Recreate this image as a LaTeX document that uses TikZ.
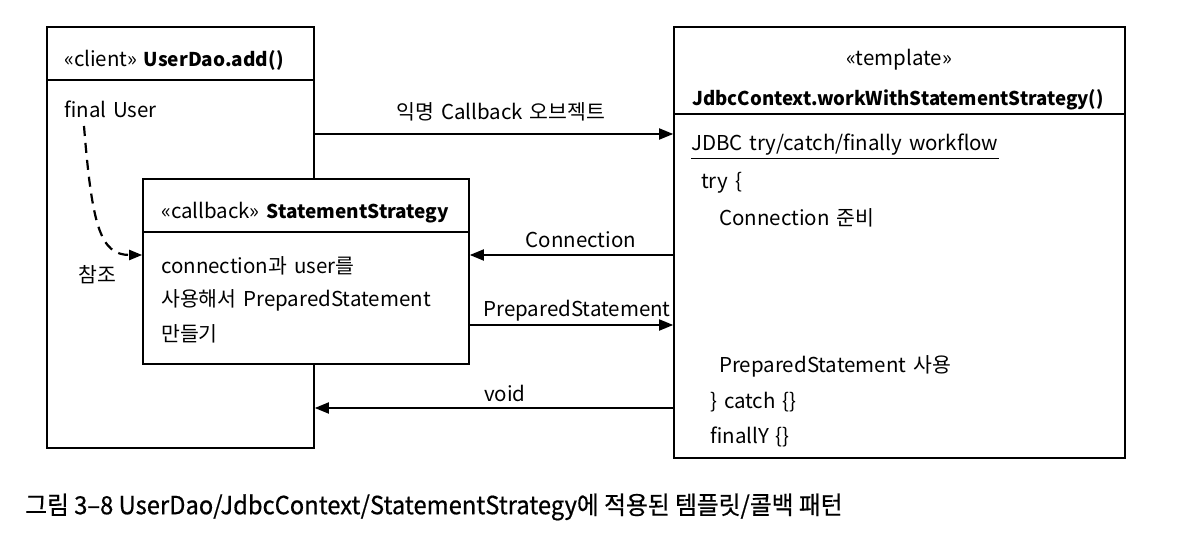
\documentclass[tikz,border=0pt]{standalone}
\usepackage{fontspec}
\setmainfont{Noto Sans CJK KR}[WordSpace=1.5]
\newfontfamily\capfont{Noto Sans CJK KR}[FakeBold=0.6]
\usetikzlibrary{arrows.meta}
\newcommand{\hb}[1]{{\fontsize{19}{22}\selectfont\textbf{#1}}}
\tikzset{
  box/.style={draw, line width=1.6pt, inner sep=0pt, fill=white},
  txt/.style={inner sep=0pt, anchor=west, font=\fontsize{20.5}{24}\selectfont},
  lbl/.style={inner sep=0pt, font=\fontsize{20.5}{24}\selectfont},
  arr/.style={line width=1.8pt, -{Triangle[length=14pt,width=11pt]}},
  divider/.style={line width=1.6pt},
}
\begin{document}
\begin{tikzpicture}[x=1pt,y=-1pt]
\fill[white] (0,0) rectangle (1194,537);
\useasboundingbox (0,0) rectangle (1194,537);
% boxes
\node[box, minimum width=267pt, minimum height=421pt] (client) at (180.5,237.5) {};
\draw[divider] (client.west |- 0,80) -- (client.east |- 0,80);
\node[box, minimum width=326pt, minimum height=185pt] (cb) at (306,271.5) {};
\draw[divider] (cb.west |- 0,232) -- (cb.east |- 0,232);
\node[box, minimum width=451pt, minimum height=431pt] (tpl) at (899.5,242.5) {};
\draw[divider] (tpl.west |- 0,114) -- (tpl.east |- 0,114);
% client texts
\node[txt] (clienth) at (64,60) {«client» \hb{UserDao.add()}};
\node[txt] (fu) at (64,109) {final User};
% callback texts
\node[txt] (cbh) at (161,213) {«callback» \hb{StatementStrategy}};
\node[txt] (cb1) at (161,266) {connection과 user를};
\node[txt] (cb2) at (161,300) {사용해서 PreparedStatement};
\node[txt] (cb3) at (161,334) {만들기};
% template texts
\node[lbl] (tplh1) at (899,60) {«template»};
\node[lbl] (tplh2) at (898,100) {\scalebox{0.98}[1]{\hb{JdbcContext.workWithStatementStrategy()}}};
\node[txt] (wf) at (691,145) {JDBC try/catch/finally workflow};
\draw[line width=1pt] ([yshift=-3pt]wf.south west) -- ([yshift=-3pt]wf.south east);
\node[txt] (t1) at (701,183) {try \{};
\node[txt] (t2) at (719,218) {Connection 준비};
\node[txt] (t3) at (719,366) {PreparedStatement 사용};
\node[txt] (t4) at (710,402) {\} catch \{\}};
\node[txt] (t5) at (710,437) {finallY \{\}};
% arrows
\draw[arr] (client.east |- 0,134) -- (tpl.west |- 0,134);
\node[lbl] (l1) at (501,112) {익명 Callback 오브젝트};
\draw[arr] (tpl.west |- 0,255) -- (cb.east |- 0,255);
\node[lbl] (l2) at (581,240) {Connection};
\draw[arr] (cb.east |- 0,325) -- (tpl.west |- 0,325);
\node[lbl] (l3) at (577,311) {PreparedStatement};
\draw[arr] (tpl.west |- 0,408) -- (client.east |- 0,408);
\node[lbl] (l4) at (505,393) {void};
% dashed reference
\coordinate (fus) at (84,126);
\draw[line width=2.2pt, dash pattern=on 10pt off 7pt, -{Triangle[length=13pt,width=10pt]}]
  (fus) .. controls (92,225) and (100,255) .. (cb.west |- 0,255);
\node[lbl] (ref) at (97,275) {참조};
% caption
\node[inner sep=0pt, anchor=west, font=\capfont\fontsize{25}{28}\selectfont] (cap) at (25,507)
  {\scalebox{0.95}[1]{그림 3–8 UserDao/JdbcContext/StatementStrategy에 적용된 템플릿/콜백 패턴}};
\end{tikzpicture}
\end{document}
